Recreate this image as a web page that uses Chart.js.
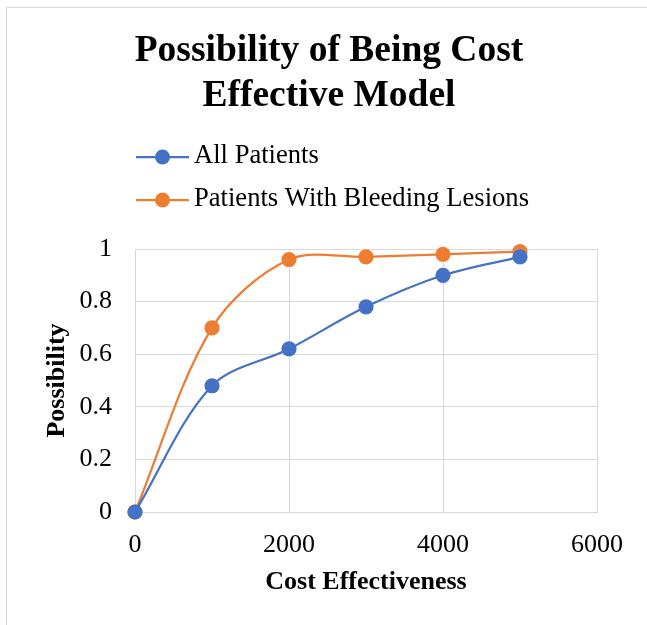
<!DOCTYPE html>
<html>
<head>
<meta charset="utf-8">
<script src="https://cdn.jsdelivr.net/npm/chart.js@4"></script>
<style>
  html, body { margin: 0; padding: 0; background: #ffffff; }
  #wrap { position: relative; width: 647px; height: 625px; }
</style>
</head>
<body>
<div id="wrap"><canvas id="c" width="647" height="625"></canvas></div>
<script>
const costValues = [0, 1000, 2000, 3000, 4000, 5000];
const allPatients = [0, 0.48, 0.62, 0.78, 0.90, 0.97];
const bleedingLesions = [0, 0.70, 0.96, 0.97, 0.98, 0.99];
const seriesNames = ['All Patients', 'Patients With Bleeding Lesions'];
const titleLines = ['Possibility of Being Cost', 'Effective Model'];
const xTickLabels = ['0', '2000', '4000', '6000'];
const yTickLabels = ['0', '0.2', '0.4', '0.6', '0.8', '1'];

const BLUE = '#4472C4';
const ORANGE = '#ED7D31';
const GRID = '#d9d9d9';
const SERIF = "'Liberation Serif', 'Times New Roman', serif";

const toPoints = (ys) => costValues.map((x, i) => ({ x: x, y: ys[i] }));

const frameTitleLegend = {
  id: 'frameTitleLegend',
  beforeDraw(chart) {
    const ctx = chart.ctx;
    ctx.save();
    ctx.fillStyle = '#ffffff';
    ctx.fillRect(0, 0, chart.width, chart.height);
    ctx.strokeStyle = GRID;
    ctx.lineWidth = 1;
    ctx.beginPath();
    ctx.moveTo(6.5, chart.height);
    ctx.lineTo(6.5, 7.5);
    ctx.lineTo(chart.width, 7.5);
    ctx.stroke();
    ctx.restore();
  },
  afterDraw(chart) {
    const ctx = chart.ctx;
    ctx.save();
    // title
    ctx.fillStyle = '#000000';
    ctx.font = 'bold 37.5px ' + SERIF;
    ctx.textAlign = 'center';
    ctx.textBaseline = 'middle';
    titleLines.forEach((t, i) => ctx.fillText(t, 329, 51 + i * 45));
    // legend
    const rows = [157, 200];
    chart.data.datasets.forEach((ds, i) => {
      const y = rows[i];
      ctx.strokeStyle = ds.borderColor;
      ctx.lineWidth = 2.25;
      ctx.beginPath();
      ctx.moveTo(136, y);
      ctx.lineTo(189, y);
      ctx.stroke();
      ctx.fillStyle = ds.backgroundColor;
      ctx.beginPath();
      ctx.arc(162.5, y, 7.5, 0, Math.PI * 2);
      ctx.fill();
      ctx.fillStyle = '#000000';
      ctx.font = '26.6px ' + SERIF;
      ctx.textBaseline = 'middle';
      ctx.textAlign = 'left';
      ctx.fillText(ds.label, 194, y - 1);
    });
    ctx.restore();
  }
};

new Chart(document.getElementById('c'), {
  type: 'line',
  data: {
    datasets: [
      {
        label: seriesNames[0],
        data: toPoints(allPatients),
        borderColor: BLUE,
        backgroundColor: BLUE,
        pointBackgroundColor: BLUE,
        pointBorderColor: BLUE,
        borderWidth: 2.25,
        pointRadius: 7.6,
        pointBorderWidth: 0,
        tension: 0.33,
        clip: false
      },
      {
        label: seriesNames[1],
        data: toPoints(bleedingLesions),
        borderColor: ORANGE,
        backgroundColor: ORANGE,
        pointBackgroundColor: ORANGE,
        pointBorderColor: ORANGE,
        borderWidth: 2.25,
        pointRadius: 7.6,
        pointBorderWidth: 0,
        tension: 0.33,
        clip: false
      }
    ]
  },
  options: {
    responsive: false,
    animation: false,
    events: [],
    layout: { padding: { left: 0, right: 50, top: 249, bottom: 0 } },
    elements: { line: { capBezierPoints: false } },
    plugins: {
      legend: { display: false },
      tooltip: { enabled: false },
      title: { display: false }
    },
    scales: {
      x: {
        type: 'linear',
        min: 0,
        max: 6000,
        afterBuildTicks(scale) {
          scale.ticks = xTickLabels.map(v => ({ value: Number(v) }));
        },
        afterFit(scale) {
          scale.height = 113;
          scale.paddingLeft = 0;
          scale.paddingRight = 0;
        },
        grid: { color: GRID, lineWidth: 1, drawTicks: false },
        border: { color: GRID, width: 1 },
        ticks: {
          color: '#000000',
          padding: 18,
          font: { family: SERIF, size: 26 },
          callback: (v) => xTickLabels.find(t => Number(t) === v) ?? ''
        },
        title: {
          display: true,
          text: 'Cost Effectiveness',
          color: '#000000',
          font: { family: SERIF, size: 26, weight: 'bold', lineHeight: 1.2 },
          padding: { top: 4, bottom: 27 }
        }
      },
      y: {
        min: 0,
        max: 1,
        afterBuildTicks(scale) {
          scale.ticks = yTickLabels.map(v => ({ value: Number(v) }));
        },
        afterFit(scale) {
          scale.width = 135;
          scale.paddingTop = 0;
          scale.paddingBottom = 0;
        },
        grid: { color: GRID, lineWidth: 1, drawTicks: false },
        border: { color: GRID, width: 1 },
        ticks: {
          color: '#000000',
          padding: 23,
          font: { family: SERIF, size: 26 },
          callback: (v) => yTickLabels.find(t => Number(t) === v) ?? ''
        },
        title: {
          display: true,
          text: 'Possibility',
          color: '#000000',
          font: { family: SERIF, size: 26, weight: 'bold', lineHeight: 1.2 },
          padding: { top: 42, bottom: 4 }
        }
      }
    }
  },
  plugins: [frameTitleLegend]
});
</script>
</body>
</html>
